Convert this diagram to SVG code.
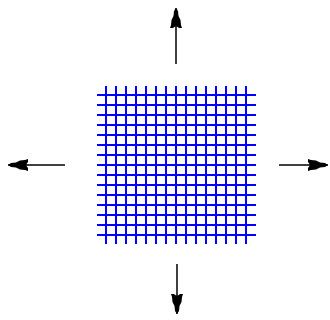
<svg xmlns="http://www.w3.org/2000/svg" width="330" height="320" viewBox="0 0 330 320">
<style>
.grid line{stroke:#0000ff;stroke-width:2}
.conn line{stroke:#000;stroke-width:1.5}
</style>
<defs>
<marker id="ah" markerUnits="userSpaceOnUse" markerWidth="24" markerHeight="16" viewBox="-21 -8 24 16" refX="0" refY="0" orient="auto">
<path d="M0,0 L-3,-2 L-8,-2.5 L-12,-4.5 L-17,-5 L-20,-6 L-20,-3 L-18.5,-1 L-18.5,1 L-20,3 L-20,6 L-17,5 L-12,4.5 L-8,2.5 L-3,2 Z" fill="#000"/>
</marker>
</defs>
<g id="grid" class="grid">
<line x1="106" y1="86" x2="106" y2="244"/>
<line x1="116" y1="86" x2="116" y2="244"/>
<line x1="126" y1="86" x2="126" y2="244"/>
<line x1="136" y1="86" x2="136" y2="244"/>
<line x1="146" y1="86" x2="146" y2="244"/>
<line x1="156" y1="86" x2="156" y2="244"/>
<line x1="166" y1="86" x2="166" y2="244"/>
<line x1="176" y1="86" x2="176" y2="244"/>
<line x1="186" y1="86" x2="186" y2="244"/>
<line x1="196" y1="86" x2="196" y2="244"/>
<line x1="206" y1="86" x2="206" y2="244"/>
<line x1="216" y1="86" x2="216" y2="244"/>
<line x1="226" y1="86" x2="226" y2="244"/>
<line x1="236" y1="86" x2="236" y2="244"/>
<line x1="246" y1="86" x2="246" y2="244"/>
<line x1="97" y1="95" x2="256" y2="95"/>
<line x1="97" y1="105" x2="256" y2="105"/>
<line x1="97" y1="115" x2="256" y2="115"/>
<line x1="97" y1="125" x2="256" y2="125"/>
<line x1="97" y1="135" x2="256" y2="135"/>
<line x1="97" y1="145" x2="256" y2="145"/>
<line x1="97" y1="155" x2="256" y2="155"/>
<line x1="97" y1="165" x2="256" y2="165"/>
<line x1="97" y1="175" x2="256" y2="175"/>
<line x1="97" y1="185" x2="256" y2="185"/>
<line x1="97" y1="195" x2="256" y2="195"/>
<line x1="97" y1="205" x2="256" y2="205"/>
<line x1="97" y1="215" x2="256" y2="215"/>
<line x1="97" y1="225" x2="256" y2="225"/>
<line x1="97" y1="235" x2="256" y2="235"/>
</g>
<g id="connectors" class="conn">
<line x1="176" y1="64" x2="176" y2="8" marker-end="url(#ah)"/>
<line x1="177" y1="264" x2="177" y2="314" marker-end="url(#ah)"/>
<line x1="65" y1="165" x2="8" y2="165" marker-end="url(#ah)"/>
<line x1="279" y1="165" x2="328" y2="165" marker-end="url(#ah)"/>
</g>
</svg>
